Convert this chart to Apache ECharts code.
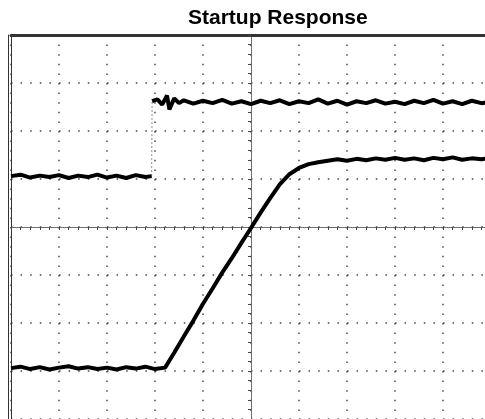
<!DOCTYPE html>
<html>
<head>
<meta charset="utf-8">
<script src="https://cdn.jsdelivr.net/npm/echarts@6/dist/echarts.min.js"></script>
<style>html,body{margin:0;padding:0;background:#fff;overflow:hidden;width:485px;height:419px}#c{width:500px;height:419px}</style>
</head>
<body>
<div id="c"></div>
<script>
// Time axis in divisions (-5 .. 5), amplitude in divisions (-4 .. 4)
const titleText = 'Startup Response';

// Upper trace: enable / input step (before edge, edge, after edge)
const ch1Low = [
  [-5.0,1.06],[-4.8,1.09],[-4.6,1.03],[-4.4,1.07],[-4.2,1.04],[-4.0,1.08],[-3.8,1.02],[-3.6,1.07],
  [-3.4,1.04],[-3.2,1.09],[-3.0,1.03],[-2.8,1.07],[-2.6,1.02],[-2.4,1.08],[-2.2,1.04],[-2.07,1.06]
];
const ch1Edge = [[-2.07,1.06],[-2.06,2.62]];
const ch1High = [
  [-2.06,2.62],[-1.95,2.66],[-1.85,2.55],[-1.75,2.74],[-1.7,2.45],[-1.6,2.68],[-1.5,2.58],[-1.4,2.64],
  [-1.2,2.57],[-1.0,2.63],[-0.8,2.58],[-0.6,2.65],[-0.4,2.57],[-0.2,2.62],[0.0,2.56],[0.2,2.63],
  [0.4,2.58],[0.6,2.64],[0.8,2.56],[1.0,2.62],[1.2,2.58],[1.4,2.66],[1.6,2.57],[1.8,2.63],
  [2.0,2.55],[2.2,2.62],[2.4,2.58],[2.6,2.64],[2.8,2.57],[3.0,2.61],[3.2,2.56],[3.4,2.63],
  [3.6,2.58],[3.8,2.65],[4.0,2.57],[4.2,2.62],[4.4,2.56],[4.6,2.63],[4.8,2.58],[5.0,2.61]
];

// Lower trace: output ramp
const ch2Trace = [
  [-5.0,-2.94],[-4.8,-2.91],[-4.6,-2.96],[-4.4,-2.92],[-4.2,-2.97],[-4.0,-2.93],[-3.8,-2.90],[-3.6,-2.95],
  [-3.4,-2.92],[-3.2,-2.96],[-3.0,-2.93],[-2.8,-2.97],[-2.6,-2.92],[-2.4,-2.95],[-2.2,-2.91],[-2.0,-2.96],
  [-1.79,-2.93],[-1.6,-2.62],[-1.4,-2.28],[-1.2,-1.95],[-1.0,-1.60],[-0.8,-1.28],[-0.6,-0.95],[-0.4,-0.65],
  [-0.2,-0.33],[0.0,-0.02],[0.2,0.30],[0.4,0.60],[0.6,0.89],[0.8,1.10],[1.0,1.23],[1.2,1.31],
  [1.4,1.35],[1.6,1.38],[1.8,1.41],[2.0,1.38],[2.2,1.42],[2.4,1.39],[2.6,1.43],[2.8,1.40],
  [3.0,1.44],[3.2,1.40],[3.4,1.43],[3.6,1.39],[3.8,1.44],[4.0,1.41],[4.2,1.45],[4.4,1.40],
  [4.6,1.43],[4.8,1.41],[5.0,1.44]
];

const xRange = [-5, 5];
const yRange = [-4, 4];

const gridDot = { color: '#444', width: 1.5, type: [1.5, 8.1] };
const centerLine = { color: '#666', width: 1, type: [1, 1] };

function centerAxis(extra) {
  return Object.assign({
    type: 'value', min: 0, max: 0, interval: 1,
    axisLine: { show: true, onZero: true, lineStyle: centerLine },
    axisTick: { show: true, length: 3, lineStyle: { color: '#444' } },
    minorTick: { show: true, splitNumber: 5, length: 3, lineStyle: { color: '#444' } },
    axisLabel: { show: false },
    splitLine: { show: false }
  }, extra);
}

const traceStyle = { color: '#000', width: 4 };

const chart = echarts.init(document.getElementById('c'), null, { renderer: 'canvas' });
chart.setOption({
  animation: false,
  backgroundColor: '#fff',
  title: {
    text: titleText, left: 188, top: 8, padding: 0,
    textStyle: { fontFamily: 'Liberation Sans, Arial, sans-serif', fontSize: 21, fontWeight: 'bold', color: '#000' }
  },
  grid: { left: 11, top: 35, width: 480, height: 384, containLabel: false },
  xAxis: [
    centerAxis({ min: xRange[0], max: xRange[1],
      splitLine: { show: true, lineStyle: gridDot } }),
    centerAxis({ min: xRange[0], max: xRange[1], axisTick: { show: true, inside: true, length: 3, lineStyle: { color: '#444' } },
      minorTick: { show: true, splitNumber: 5, length: 3, lineStyle: { color: '#444' } } }),
    { type: 'value', min: xRange[0], max: xRange[1], position: 'top',
      axisLine: { show: true, onZero: false, lineStyle: { color: '#333', width: 3, type: [1, 1] } },
      axisTick: { show: false }, axisLabel: { show: false }, splitLine: { show: false } }
  ],
  yAxis: [
    centerAxis({ min: yRange[0], max: yRange[1],
      splitLine: { show: true, lineStyle: gridDot } }),
    centerAxis({ min: yRange[0], max: yRange[1], axisTick: { show: true, inside: true, length: 3, lineStyle: { color: '#444' } },
      minorTick: { show: true, splitNumber: 5, length: 3, lineStyle: { color: '#444' } } }),
    { type: 'value', min: yRange[0], max: yRange[1], position: 'left',
      axisLine: { show: true, onZero: false, lineStyle: { color: '#333', width: 1 } },
      axisTick: { show: false }, axisLabel: { show: false }, splitLine: { show: false } },
    { type: 'value', min: yRange[0], max: yRange[1], position: 'left', offset: 3,
      axisLine: { show: true, onZero: false, lineStyle: { color: '#333', width: 1 } },
      axisTick: { show: false }, axisLabel: { show: false }, splitLine: { show: false } }
  ],
  series: [
    { type: 'line', data: ch1Low, xAxisIndex: 0, yAxisIndex: 0, symbol: 'none', lineStyle: traceStyle, z: 5 },
    { type: 'line', data: ch1Edge, xAxisIndex: 0, yAxisIndex: 0, symbol: 'none',
      lineStyle: { color: '#888', width: 1, type: [2, 2] }, z: 4 },
    { type: 'line', data: ch1High, xAxisIndex: 0, yAxisIndex: 0, symbol: 'none', lineStyle: traceStyle, z: 5 },
    { type: 'line', data: ch2Trace, xAxisIndex: 0, yAxisIndex: 0, symbol: 'none', lineStyle: traceStyle, z: 5 }
  ]
});
</script>
</body>
</html>
